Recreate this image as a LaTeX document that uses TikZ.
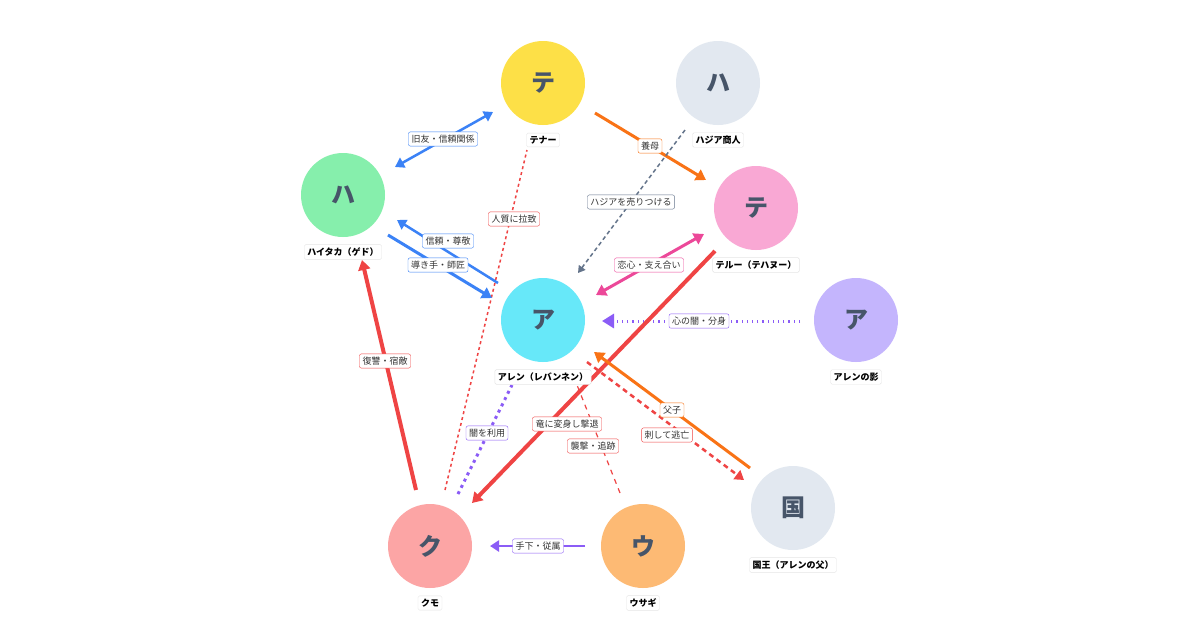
\documentclass[tikz,border=0pt]{standalone}
\usepackage{fontspec}
\setmainfont{Noto Sans CJK JP}
\usetikzlibrary{arrows.meta}
\definecolor{cBlue}{HTML}{3B82F6}\definecolor{cOrange}{HTML}{F97316}
\definecolor{cRed}{HTML}{EF4444}\definecolor{cPink}{HTML}{EC4899}
\definecolor{cPurp}{HTML}{8B5CF6}\definecolor{cGray}{HTML}{64748B}
\definecolor{txt}{HTML}{475569}
\definecolor{fYel}{HTML}{FDE047}\definecolor{fGray}{HTML}{E2E8F0}
\definecolor{fGreen}{HTML}{86EFAC}\definecolor{fPink}{HTML}{F9A8D4}
\definecolor{fCyan}{HTML}{67E8F9}\definecolor{fPurp}{HTML}{C4B5FD}
\definecolor{fRed}{HTML}{FCA5A5}\definecolor{fOr}{HTML}{FDBA74}
\begin{document}
\begin{tikzpicture}[x=1pt,y=-1pt,
 person/.style={circle,minimum size=84pt,inner sep=0pt,font=\bfseries\fontsize{24}{24}\selectfont,text=txt},
 pname/.style={draw=black!10,fill=white,rounded corners=1.5pt,font=\bfseries\fontsize{9}{10}\selectfont,inner sep=3pt},
 lab/.style={draw=#1,fill=white,rounded corners=2pt,font=\fontsize{9}{10}\selectfont,text=black!80,inner sep=3pt},
 ed/.style={draw=#1,line width=3pt,-{Triangle[length=10pt,width=12pt]}}]
\useasboundingbox (0,0) rectangle (1200,630);
\fill[white] (0,0) rectangle (1200,630);
% people
\node[person,fill=fYel] (ten) at (543,83) {テ};
\node[person,fill=fGray] (haj) at (718,83) {ハ};
\node[person,fill=fGreen] (hai) at (343,195) {ハ};
\node[person,fill=fPink] (the) at (756,208) {テ};
\node[person,fill=fCyan] (are) at (543,320) {ア};
\node[person,fill=fPurp] (sha) at (856,320) {ア};
\node[person,fill=fGray] (kin) at (793,508) {国};
\node[person,fill=fRed] (kum) at (430,546) {ク};
\node[person,fill=fOr] (usa) at (643,546) {ウ};
% endpoints
\foreach \n/\x/\y in {a1/395/167,a2/493/112,b1/595/113,b2/706/180,c1/685/130,c2/578/273,
 d1/527/150,d2/445/490,e1/498/283,e2/397/220,f1/388/235,f2/492/298,g1/704/234,g2/596/295,
 h1/800/321,h2/602/321,i1/715/251,i2/472/503,j1/750/468,j2/594/352,k1/587/362,k2/744/480,
 l1/458/494,l2/512/385,m1/620/493,m2/577/385,n1/416/490,n2/362/260,o1/585/546,o2/490/546}
 \coordinate (\n) at (\x,\y);
% edges
\draw[cRed,line width=1.5pt,dash pattern=on 3pt off 3pt] (d2)--(d1);
\draw[cRed,line width=1.2pt,dash pattern=on 5pt off 5pt] (m1)--(m2);
\draw[cPurp,line width=3pt,dash pattern=on 3pt off 4pt] (l1)--(l2);
\draw[cBlue,line width=2.5pt,{Triangle[length=9pt,width=11pt]}-{Triangle[length=9pt,width=11pt]}] (a1)--(a2);
\draw[ed=cOrange] (b1)--(b2);
\draw[cGray,line width=1.5pt,dash pattern=on 4pt off 3pt,-{Triangle[length=7pt,width=8pt]}] (c1)--(c2);
\draw[cBlue,line width=2.5pt,-{Triangle[length=9pt,width=11pt]}] (e1)--(e2);
\draw[ed=cBlue] (f1)--(f2);
\draw[cPink,line width=3pt,{Triangle[length=10pt,width=12pt]}-{Triangle[length=10pt,width=12pt]}] (g1)--(g2);
\draw[cPurp,line width=3pt,dash pattern=on 1.2pt off 4pt,-{Triangle[length=12pt,width=14pt]}] (h1)--(h2);
\draw[ed=cRed,line width=4pt] (i1)--(i2);
\draw[ed=cOrange] (j1)--(j2);
\draw[cRed,line width=2.5pt,dash pattern=on 5pt off 4pt,-{Triangle[length=9pt,width=11pt]}] (k1)--(k2);
\draw[ed=cRed,line width=4pt] (n1)--(n2);
\draw[cPurp,line width=2.5pt,-{Triangle[length=9pt,width=11pt]}] (o1)--(o2);
% name labels
\node[pname] (nten) at (543,140) {テナー};
\node[pname] (nhaj) at (718,140) {ハジア商人};
\node[pname] (nhai) at (343,252) {ハイタカ（ゲド）};
\node[pname] (nthe) at (756,265) {テルー（テハヌー）};
\node[pname] (nare) at (543,377) {アレン（レバンネン）};
\node[pname] (nsha) at (856,377) {アレンの影};
\node[pname] (nkin) at (793,565) {国王（アレンの父）};
\node[pname] (nkum) at (430,603) {クモ};
\node[pname] (nusa) at (643,603) {ウサギ};
% edge labels
\node[lab=cBlue] (la) at (443,139) {旧友・信頼関係};
\node[lab=cOrange] (lb) at (650,146) {養母};
\node[lab=cGray] (lc) at (631,202) {ハジアを売りつける};
\node[lab=cRed] (ld) at (514,219) {人質に拉致};
\node[lab=cBlue] (le) at (448,241) {信頼・尊敬};
\node[lab=cBlue] (lf) at (438,265) {導き手・師匠};
\node[lab=cPink] (lg) at (649,265) {恋心・支え合い};
\node[lab=cPurp] (lh) at (699,321) {心の闇・分身};
\node[lab=cOrange] (lj) at (672,410) {父子};
\node[lab=cRed] (lk) at (667,435) {刺して逃亡};
\node[lab=cRed] (li) at (567,424) {竜に変身し撃退};
\node[lab=cPurp] (ll) at (487,433) {闇を利用};
\node[lab=cRed] (lm) at (593,446) {襲撃・追跡};
\node[lab=cRed] (ln) at (385,361) {復讐・宿敵};
\node[lab=cPurp] (lo) at (538,546) {手下・従属};
\end{tikzpicture}
\end{document}
